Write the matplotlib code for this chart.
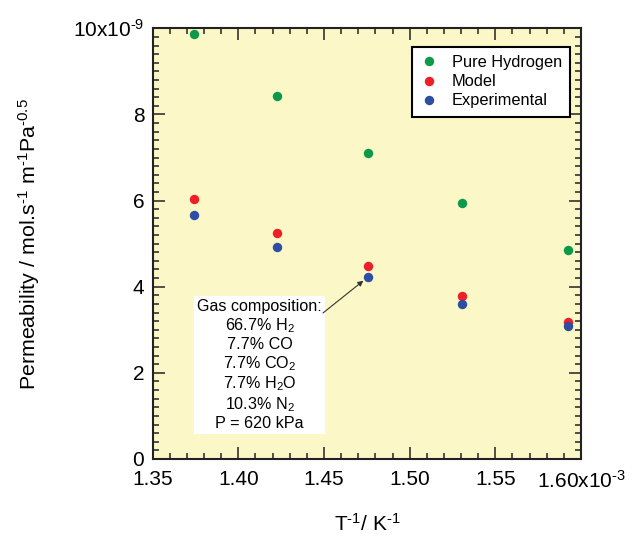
import matplotlib
matplotlib.use("Agg")
import matplotlib.pyplot as plt
from matplotlib.ticker import MultipleLocator, FixedLocator, FuncFormatter

plt.rcParams['font.family'] = ['Liberation Sans', 'DejaVu Sans']
plt.rcParams['mathtext.fontset'] = 'custom'
plt.rcParams['mathtext.rm'] = 'Liberation Sans'
plt.rcParams['mathtext.it'] = 'Liberation Sans:italic'
plt.rcParams['mathtext.bf'] = 'Liberation Sans:bold'

# Data (x in 1e-3 K^-1, y in 1e-9 mol s^-1 m^-1 Pa^-0.5)
inv_T = [1.374, 1.4226, 1.4755, 1.5308, 1.5922]
pure_h2 = [9.86, 8.42, 7.10, 5.94, 4.86]
model = [6.04, 5.25, 4.48, 3.79, 3.17]
experimental = [5.665, 4.92, 4.22, 3.61, 3.095]
series_labels = ["Pure Hydrogen", "Model", "Experimental"]
x_ticks = [1.35, 1.40, 1.45, 1.50, 1.55, 1.60]
y_ticks = [0, 2, 4, 6, 8, 10]

colors = ["#0c9a4a", "#ee1f26", "#2d4ea2"]

fig = plt.figure(figsize=(6.33, 5.37), dpi=100)
ax = fig.add_axes([0.2412, 0.1453, 0.6767, 0.802])
ax.set_facecolor("#fbf7c6")

for vals, lab, c in zip([pure_h2, model, experimental], series_labels, colors):
    ax.plot(inv_T, vals, linestyle='none', marker='o', markersize=6.8,
            color=c, markeredgewidth=0, label=lab, zorder=3)

ax.set_xlim(1.35, 1.60)
ax.set_ylim(0, 10)

ax.xaxis.set_major_locator(FixedLocator(x_ticks))
ax.xaxis.set_minor_locator(MultipleLocator(0.01))
ax.yaxis.set_major_locator(FixedLocator(y_ticks))
ax.yaxis.set_minor_locator(MultipleLocator(0.2))

def xfmt(v, pos):
    if abs(v - 1.60) < 1e-9:
        return r"1.60x10$^{\text{-3}}$"
    return f"{v:.2f}"

def yfmt(v, pos):
    if abs(v - 10) < 1e-9:
        return r"10x10$^{\text{-9}}$"
    return f"{v:.0f}"

ax.xaxis.set_major_formatter(FuncFormatter(xfmt))
ax.yaxis.set_major_formatter(FuncFormatter(yfmt))

ax.tick_params(which='both', direction='in', top=True, right=True, width=1.1,
               color='#222222')
ax.tick_params(which='major', length=8.5, labelsize=15)
ax.tick_params(which='minor', length=4.5)
ax.tick_params(axis='x', which='major', pad=8)
ax.tick_params(axis='y', which='major', pad=6)
for s in ax.spines.values():
    s.set_linewidth(1.5)
    s.set_color('#222222')

ax.set_xlabel(r"T$^{\text{-1}}$/ K$^{\text{-1}}$", fontsize=15)
ax.set_ylabel(r"Permeability / mol.s$^{\text{-1}}$ m$^{\text{-1}}$Pa$^{\text{-0.5}}$",
              fontsize=15.4)
ax.xaxis.set_label_coords(0.5, -0.125)
ax.yaxis.set_label_coords(-0.258, 0.5)

leg = ax.legend(loc='upper right', bbox_to_anchor=(0.9743, 0.9566),
                borderaxespad=0, fontsize=11.8, frameon=True, fancybox=False,
                framealpha=1, edgecolor='black', handlelength=1.0,
                handletextpad=0.9, labelspacing=0.25, borderpad=0.5,
                markerscale=1.0)
leg.get_frame().set_linewidth(1.5)

box_text = ("Gas composition:\n66.7% H$_2$\n7.7% CO\n7.7% CO$_2$\n"
            "7.7% H$_2$O\n10.3% N$_2$\nP = 620 kPa")
ax.text(0.2494, 0.218, box_text, transform=ax.transAxes, ha='center',
        va='center', fontsize=11.6, linespacing=1.15, zorder=4,
        bbox=dict(facecolor='white', edgecolor='none', pad=2))

ax.annotate('', xy=(1.4755, 4.22), xycoords='data',
            xytext=(0.3976, 0.339), textcoords='axes fraction',
            arrowprops=dict(arrowstyle='-|>', lw=0.8, color='#333333',
                            mutation_scale=8, shrinkA=0, shrinkB=4),
            zorder=5)

fig.savefig("out.png", dpi=100)
